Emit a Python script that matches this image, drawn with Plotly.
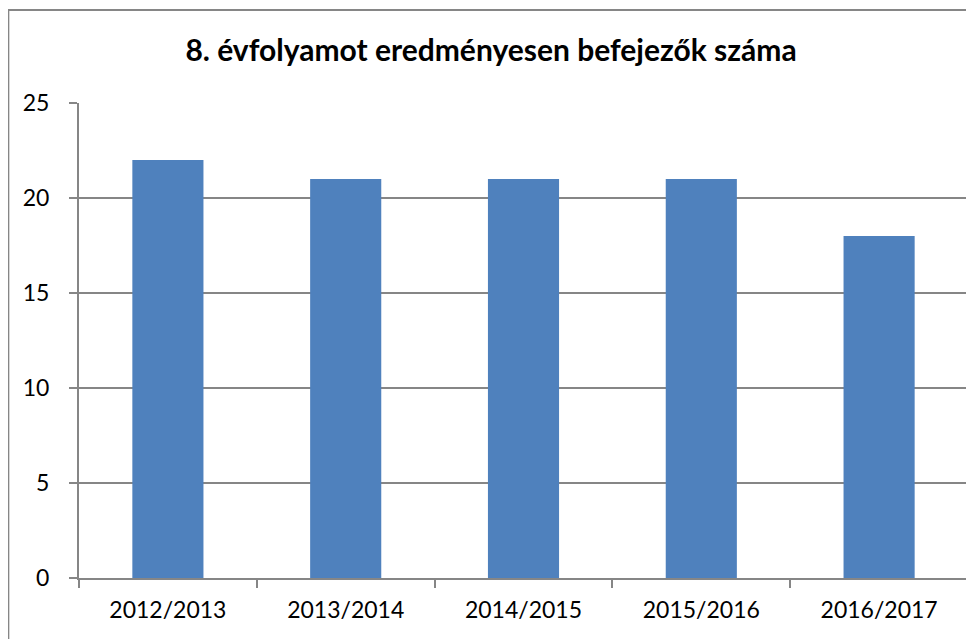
import plotly.graph_objects as go

years = ["2012/2013", "2013/2014", "2014/2015", "2015/2016", "2016/2017"]
counts = [22, 21, 21, 21, 18]
y_ticks = [0, 5, 10, 15, 20, 25]

GRAY = "#868686"
FONT = "Lato"

fig = go.Figure(
    go.Bar(
        x=years,
        y=counts,
        marker=dict(color="#4F81BD", line=dict(width=0)),
    )
)

# page body has an 8px margin, so the figure is sized to fit the window
fig.update_layout(
    width=966,
    height=631,
    margin=dict(l=71, r=6, t=95, b=61),
    paper_bgcolor="white",
    plot_bgcolor="white",
    bargap=0.6,
    showlegend=False,
    font=dict(family=FONT, color="black", size=23),
    title=dict(
        text="<b>8. évfolyamot eredményesen befejezők száma</b>",
        x=0.5,
        xanchor="center",
        y=0.933,
        yanchor="middle",
        font=dict(family=FONT, size=30, color="black"),
    ),
    shapes=[
        dict(
            type="rect",
            xref="paper",
            yref="paper",
            x0=-0.0795,
            x1=1.0148,
            y0=-0.16,
            y1=1.196,
            line=dict(color=GRAY, width=2),
        )
    ],
)

fig.update_xaxes(
    showline=True,
    linecolor=GRAY,
    linewidth=2,
    ticks="outside",
    tickson="boundaries",
    ticklen=8,
    tickcolor=GRAY,
    tickwidth=2,
    showgrid=False,
    ticklabelstandoff=10,
    tickfont=dict(size=23),
)
fig.update_yaxes(
    range=[0, 25],
    tickvals=y_ticks,
    showline=True,
    linecolor=GRAY,
    linewidth=2,
    ticks="outside",
    ticklen=8,
    tickcolor=GRAY,
    tickwidth=2,
    showgrid=True,
    gridcolor=GRAY,
    gridwidth=2,
    zeroline=False,
    ticklabelstandoff=15,
    tickfont=dict(size=23),
)

fig.write_html("out.html")
